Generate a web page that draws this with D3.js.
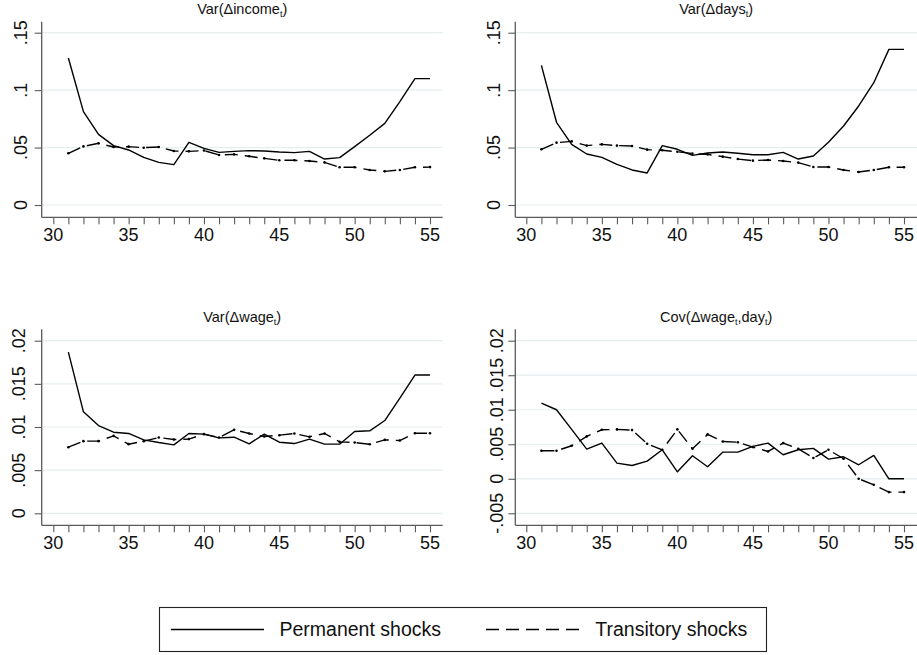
<!DOCTYPE html>
<html>
<head>
<meta charset="utf-8">
<script src="https://cdn.jsdelivr.net/npm/d3@7"></script>
<style>
  html, body { margin: 0; padding: 0; background: #fff; }
  svg { display: block; font-family: "Liberation Sans", Arial, Helvetica, sans-serif; }
</style>
</head>
<body>
<svg id="chart" width="917" height="655"></svg>
<script>
// Age at which the variance components are estimated
const ages = d3.range(31, 56);
const xTicks = [30, 35, 40, 45, 50, 55];
const xMinor = d3.range(30, 56);

// Var(Δincome)
const incomePermanent = [0.128, 0.0813, 0.0615, 0.0517, 0.0479, 0.0415, 0.0371, 0.0351, 0.0546, 0.0493,
  0.0458, 0.0467, 0.0473, 0.047, 0.0461, 0.0456, 0.0467, 0.040, 0.0412, 0.0508,
  0.0607, 0.0711, 0.090, 0.110, 0.110];
const incomeTransitory = [0.045, 0.051, 0.0537, 0.0505, 0.0508, 0.0499, 0.0505, 0.047, 0.0467, 0.0474,
  0.0435, 0.0441, 0.0424, 0.0406, 0.0389, 0.0389, 0.0383, 0.0371, 0.0328, 0.0328,
  0.0305, 0.0293, 0.0305, 0.0328, 0.033];

// Var(Δdays)
const daysPermanent = [0.1216, 0.072, 0.0528, 0.0444, 0.0415, 0.0354, 0.0305, 0.0279, 0.0517, 0.0485,
  0.0432, 0.0453, 0.0461, 0.045, 0.0438, 0.0438, 0.0458, 0.040, 0.0427, 0.0546,
  0.0688, 0.0862, 0.1065, 0.1355, 0.1355];
const daysTransitory = [0.0485, 0.0543, 0.0554, 0.0517, 0.0528, 0.0517, 0.0514, 0.0482, 0.0476, 0.0464,
  0.0447, 0.0441, 0.0421, 0.040, 0.0386, 0.0392, 0.0383, 0.0369, 0.0331, 0.0331,
  0.0305, 0.0287, 0.0305, 0.0328, 0.0328];

// Var(Δwage)
const wagePermanent = [0.01868, 0.01176, 0.01017, 0.0094, 0.00925, 0.00851, 0.0082, 0.00793, 0.00925, 0.00917,
  0.00874, 0.00882, 0.00805, 0.00917, 0.00824, 0.00808, 0.00859, 0.00801, 0.00801, 0.00948,
  0.00956, 0.01075, 0.01335, 0.01602, 0.01602];
const wageTransitory = [0.00766, 0.00836, 0.00836, 0.00897, 0.00801, 0.00836, 0.00878, 0.00855, 0.0086, 0.00917,
  0.00878, 0.00967, 0.00925, 0.0089, 0.00905, 0.00925, 0.00886, 0.00925, 0.00828, 0.0082,
  0.0080, 0.00851, 0.00843, 0.00928, 0.00928];

// Cov(Δwage, day)
const covPermanent = [0.01097, 0.0100, 0.00715, 0.0043, 0.00517, 0.00227, 0.00193, 0.00256, 0.0042, 0.00101,
  0.00333, 0.00174, 0.00386, 0.00386, 0.00469, 0.00517, 0.00348, 0.0042, 0.0044, 0.00285,
  0.00319, 0.00203, 0.00338, 0.0, 0.0];
const covTransitory = [0.00406, 0.00406, 0.00478, 0.00614, 0.0071, 0.00715, 0.00705, 0.00507, 0.0042, 0.00715,
  0.00435, 0.00643, 0.0054, 0.0053, 0.00459, 0.00396, 0.00517, 0.00435, 0.0030, 0.0042,
  0.0029, 0.0, -0.00087, -0.00193, -0.00193];

// y tick values and their labels
const varTicksLarge = [0, 0.05, 0.1, 0.15];
const varLabelsLarge = ["0", ".05", ".1", ".15"];
const varTicksSmall = [0, 0.005, 0.01, 0.015, 0.02];
const varLabelsSmall = ["0", ".005", ".01", ".015", ".02"];
const covTicks = [-0.005, 0, 0.005, 0.01, 0.015, 0.02];
const covLabels = ["-.005", "0", ".005", ".01", ".015", ".02"];

const legendLabels = ["Permanent shocks", "Transitory shocks"];

// Panel layout (pixel frames)
const panels = [
  { title: ["Var(Δincome", "t", ")"], perm: incomePermanent, trans: incomeTransitory,
    ticks: varTicksLarge, labels: varLabelsLarge,
    left: 41.7, x0: 53.3, x1: 430, right: 442.7, top: 21.7, bottom: 217.3,
    yLo: 205, yHi: 32.7, titleY: 13.5, labOff: 14.5 },
  { title: ["Var(Δdays", "t", ")"], perm: daysPermanent, trans: daysTransitory,
    ticks: varTicksLarge, labels: varLabelsLarge,
    left: 515.3, x0: 526.3, x1: 904, right: 917, top: 21.7, bottom: 217.3,
    yLo: 205, yHi: 32.7, titleY: 13.5, labOff: 15 },
  { title: ["Var(Δwage", "t", ")"], perm: wagePermanent, trans: wageTransitory,
    ticks: varTicksSmall, labels: varLabelsSmall,
    left: 41.7, x0: 53.3, x1: 430, right: 442.7, top: 329.3, bottom: 525.3,
    yLo: 513.3, yHi: 340.7, titleY: 322.3, labOff: 16.5 },
  { title: ["Cov(Δwage", "t", ",day", "t", ")"], perm: covPermanent, trans: covTransitory,
    ticks: covTicks, labels: covLabels,
    left: 515.3, x0: 526.3, x1: 904, right: 917, top: 329.3, bottom: 525.3,
    yLo: 513.3, yHi: 340.7, titleY: 322.3, labOff: 12.5 }
];

const svg = d3.select("#chart");
const axisColor = "#5a5a5a";
const gridColor = "#e6eef0";
const dashPattern = "13,7";

panels.forEach(p => {
  const g = svg.append("g");
  const x = d3.scaleLinear().domain([30, 55]).range([p.x0, p.x1]);
  const y = d3.scaleLinear().domain([p.ticks[0], p.ticks[p.ticks.length - 1]]).range([p.yLo, p.yHi]);

  // gridlines
  g.selectAll("line.grid").data(p.ticks).join("line")
    .attr("x1", p.left).attr("x2", p.right)
    .attr("y1", d => y(d)).attr("y2", d => y(d))
    .attr("stroke", gridColor).attr("stroke-width", 1.2);

  // y axis
  const yAxis = d3.axisLeft(y).tickValues(p.ticks).tickSize(7).tickFormat("");
  const ya = g.append("g").attr("transform", `translate(${p.left},0)`).call(yAxis);
  ya.select(".domain").remove();
  ya.selectAll(".tick line").attr("stroke", axisColor).attr("stroke-width", 1.1);
  g.append("line").attr("x1", p.left).attr("x2", p.left).attr("y1", p.top).attr("y2", p.bottom)
    .attr("stroke", axisColor).attr("stroke-width", 1.3);
  g.selectAll("text.ylab").data(p.ticks).join("text")
    .attr("class", "ylab")
    .attr("transform", d => `translate(${p.left - p.labOff},${y(d)}) rotate(-90)`)
    .attr("text-anchor", "middle")
    .attr("font-size", 18)
    .attr("fill", "#111")
    .text((d, i) => p.labels[i]);

  // x axis
  const xAxis = d3.axisBottom(x).tickValues(xMinor).tickSize(7).tickFormat("");
  const xa = g.append("g").attr("transform", `translate(0,${p.bottom})`).call(xAxis);
  xa.select(".domain").remove();
  xa.selectAll(".tick line").attr("stroke", axisColor).attr("stroke-width", 1.1);
  g.append("line").attr("x1", p.left).attr("x2", p.right).attr("y1", p.bottom).attr("y2", p.bottom)
    .attr("stroke", axisColor).attr("stroke-width", 1.3);
  g.selectAll("text.xlab").data(xTicks).join("text")
    .attr("class", "xlab")
    .attr("x", d => x(d)).attr("y", p.bottom + 24)
    .attr("text-anchor", "middle")
    .attr("font-size", 18)
    .attr("fill", "#111")
    .text(d => d);

  // title with subscripts
  const t = g.append("text")
    .attr("x", (p.left + p.right) / 2).attr("y", p.titleY)
    .attr("text-anchor", "middle").attr("font-size", 14.5).attr("fill", "#111");
  p.title.forEach((s, i) => {
    const ts = t.append("tspan").text(s);
    if (i % 2 === 1) ts.attr("font-size", 9).attr("dy", 3);
    else if (i > 0) ts.attr("dy", -3);
  });

  const line = d3.line().x((d, i) => x(ages[i])).y(d => y(d));

  g.append("path").datum(p.perm).attr("d", line)
    .attr("fill", "none").attr("stroke", "#000").attr("stroke-width", 1.4)
    .attr("stroke-linejoin", "round");

  g.append("path").datum(p.trans).attr("d", line)
    .attr("fill", "none").attr("stroke", "#000").attr("stroke-width", 1.4)
    .attr("stroke-dasharray", dashPattern);

  g.selectAll("circle.pt").data(p.trans).join("circle")
    .attr("cx", (d, i) => x(ages[i])).attr("cy", d => y(d))
    .attr("r", 1.3).attr("fill", "#000");
});

// legend
const lg = svg.append("g");
lg.append("rect").attr("x", 159.5).attr("y", 607.5).attr("width", 607).attr("height", 44)
  .attr("fill", "#fff").attr("stroke", "#222").attr("stroke-width", 1.1);
lg.append("line").attr("x1", 171).attr("x2", 264).attr("y1", 629.5).attr("y2", 629.5)
  .attr("stroke", "#000").attr("stroke-width", 1.4);
lg.append("text").attr("x", 279.5).attr("y", 636).attr("font-size", 19.5).attr("fill", "#111")
  .text(legendLabels[0]);
lg.append("line").attr("x1", 486).attr("x2", 579).attr("y1", 629.5).attr("y2", 629.5)
  .attr("stroke", "#000").attr("stroke-width", 1.4).attr("stroke-dasharray", dashPattern);
lg.append("text").attr("x", 595.3).attr("y", 636).attr("font-size", 19.5).attr("fill", "#111")
  .text(legendLabels[1]);
</script>
</body>
</html>
